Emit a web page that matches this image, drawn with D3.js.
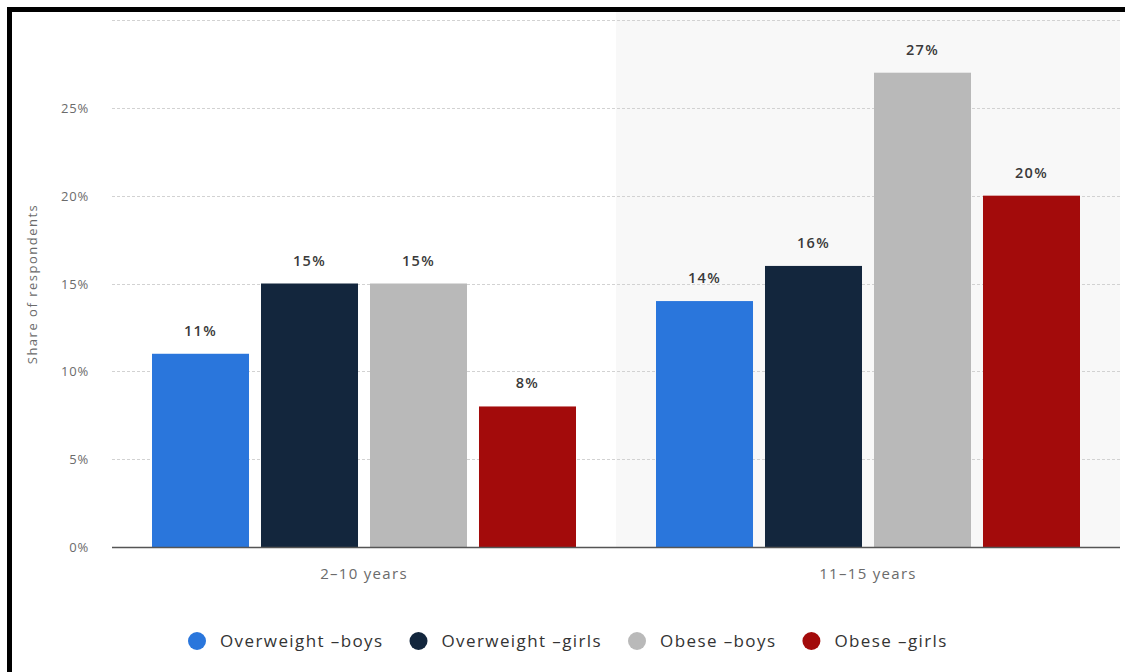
<!DOCTYPE html>
<html>
<head>
<meta charset="utf-8">
<script src="https://cdn.jsdelivr.net/npm/d3@7"></script>
<style>
  html, body { margin: 0; padding: 0; background: #fff; }
  svg { display: block; }
</style>
</head>
<body>
<svg id="chart" width="1125" height="672"></svg>
<script>
const categories = ["2–10 years", "11–15 years"];
const seriesNames = ["Overweight –boys", "Overweight –girls", "Obese –boys", "Obese –girls"];
const overweightBoys = [11, 14];
const overweightGirls = [15, 16];
const obeseBoys = [15, 27];
const obeseGirls = [8, 20];
const seriesColors = ["#2a76dc", "#13263d", "#b9b9b9", "#a30b0b"];
const yTicks = [0, 5, 10, 15, 20, 25];
const yGrid = [5, 10, 15, 20, 25, 30];

const seriesValues = [overweightBoys, overweightGirls, obeseBoys, obeseGirls];

const svg = d3.select("#chart");
const plotLeft = 112, plotRight = 1120, plotTop = 20, plotBottom = 547;

const x0 = d3.scaleBand().domain(categories).range([plotLeft, plotRight]).padding(0);
const groupPad = 40;
const x1 = d3.scaleBand().domain(seriesNames)
  .range([groupPad, x0.bandwidth() - groupPad]).paddingInner(0.11).paddingOuter(0);
const y = d3.scaleLinear().domain([0, 30]).range([plotBottom, plotTop]);

// shaded background for second group
svg.append("rect")
  .attr("x", x0(categories[1])).attr("y", 12)
  .attr("width", plotRight - x0(categories[1])).attr("height", plotBottom - 12)
  .attr("fill", "#f8f8f8");

// gridlines
svg.append("g").selectAll("line").data(yGrid).join("line")
  .attr("x1", plotLeft).attr("x2", plotRight)
  .attr("y1", d => Math.round(y(d)) + 0.5).attr("y2", d => Math.round(y(d)) + 0.5)
  .attr("stroke", "#d2d2d2").attr("stroke-width", 1).attr("stroke-dasharray", "3,2");

// y tick labels
svg.append("g").selectAll("text").data(yTicks).join("text")
  .attr("x", 89).attr("y", d => y(d) + 5)
  .attr("text-anchor", "end")
  .attr("font-family", "Open Sans, sans-serif").attr("font-size", 13)
  .attr("letter-spacing", 0.8)
  .attr("fill", "#6b6b6b")
  .text(d => d + "%");

// y axis title
svg.append("text")
  .attr("transform", "translate(37,284) rotate(-90)")
  .attr("text-anchor", "middle")
  .attr("font-family", "Open Sans, sans-serif").attr("font-size", 13)
  .attr("letter-spacing", 1.5)
  .attr("fill", "#6b6b6b")
  .text("Share of respondents");

// bars
const groups = svg.append("g").selectAll("g").data(categories).join("g")
  .attr("transform", c => `translate(${x0(c)},0)`);

groups.each(function(c, ci) {
  const g = d3.select(this);
  const data = seriesNames.map((s, si) => ({ s, si, v: seriesValues[si][ci] }));
  g.selectAll("rect").data(data).join("rect")
    .attr("x", d => x1(d.s)).attr("width", x1.bandwidth())
    .attr("y", d => y(d.v)).attr("height", d => plotBottom - y(d.v))
    .attr("fill", d => seriesColors[d.si]);
  g.selectAll("text").data(data).join("text")
    .attr("x", d => x1(d.s) + x1.bandwidth() / 2)
    .attr("y", d => y(d.v) - 18)
    .attr("text-anchor", "middle")
    .attr("font-family", "Open Sans, sans-serif").attr("font-size", 14.5)
    .attr("font-weight", 600).attr("letter-spacing", 1.3)
    .attr("fill", "#3a3a3a")
    .text(d => d.v + "%");
});

// baseline
svg.append("line")
  .attr("x1", plotLeft).attr("x2", plotRight).attr("y1", plotBottom + 0.5).attr("y2", plotBottom + 0.5)
  .attr("stroke", "#555").attr("stroke-width", 1.5);

// category labels
svg.append("g").selectAll("text").data(categories).join("text")
  .attr("x", c => x0(c) + x0.bandwidth() / 2).attr("y", 579)
  .attr("text-anchor", "middle")
  .attr("font-family", "Open Sans, sans-serif").attr("font-size", 15)
  .attr("letter-spacing", 1.3)
  .attr("fill", "#6b6b6b")
  .text(c => c);

// legend (flow layout)
const legend = svg.append("g").selectAll("g").data(seriesNames).join("g");
legend.append("circle").attr("r", 9).attr("fill", (d, i) => seriesColors[i]);
legend.append("text")
  .attr("x", 23).attr("y", 6)
  .attr("font-family", "Open Sans, sans-serif").attr("font-size", 17)
  .attr("letter-spacing", 1.4)
  .attr("fill", "#333")
  .text(d => d);
let lx = 197;
legend.each(function() {
  const g = d3.select(this);
  g.attr("transform", `translate(${lx},641)`);
  const w = g.select("text").node().getComputedTextLength();
  lx += 23 + w + 35;
});

// black frame (left and top edges visible)
svg.append("rect")
  .attr("x", 9.5).attr("y", 9.5).attr("width", 1200).attr("height", 800)
  .attr("fill", "none").attr("stroke", "#000").attr("stroke-width", 5);
</script>
</body>
</html>
